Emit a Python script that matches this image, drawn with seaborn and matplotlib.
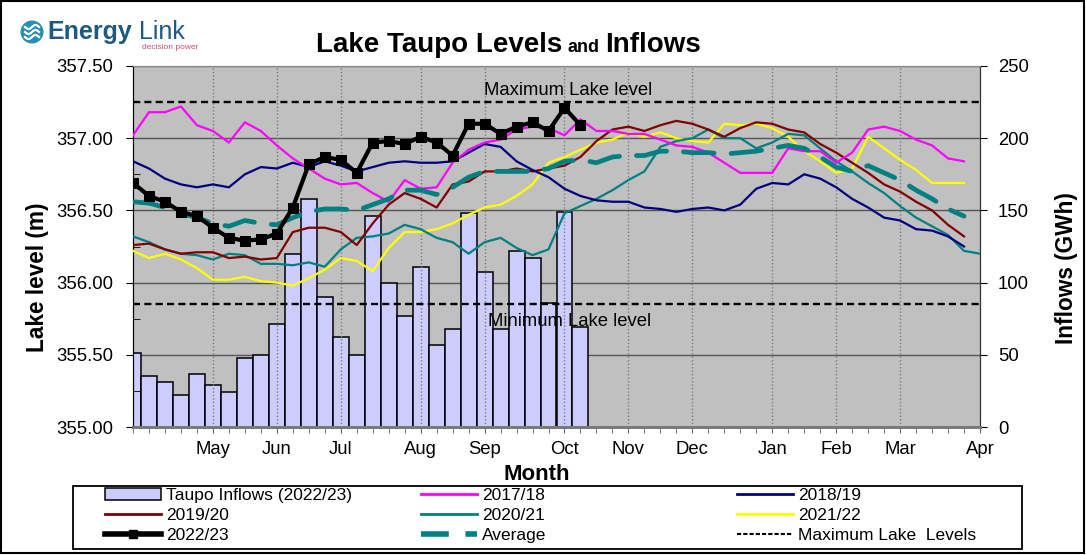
import matplotlib
matplotlib.use("Agg")
import matplotlib.pyplot as plt
import seaborn as sns
import numpy as np
from matplotlib.lines import Line2D
from matplotlib.patches import Patch, Rectangle, Ellipse

plt.rcParams['font.family'] = ['Liberation Sans', 'DejaVu Sans']

# ---- data (weekly, week 0 = start of April) ----
month_labels = ["May", "Jun", "Jul", "Aug", "Sep", "Oct", "Nov", "Dec", "Jan", "Feb", "Mar", "Apr"]
month_weeks = [5, 9, 13, 18, 22, 27, 31, 35, 40, 44, 48, 53]

inflows_2223 = [51, 35, 31, 22, 37, 29, 24, 48, 50, 71, 120, 158, 90, 62, 50, 146, 100, 77,
                111, 57, 68, 148, 107, 68, 122, 117, 86, 149, 69]

lvl_2223 = [356.69, 356.60, 356.56, 356.49, 356.46, 356.38, 356.31, 356.29, 356.30, 356.34,
            356.52, 356.82, 356.87, 356.85, 356.76, 356.97, 356.98, 356.96, 357.01, 356.97,
            356.88, 357.10, 357.10, 357.03, 357.08, 357.11, 357.05, 357.21, 357.09]

lvl_1718 = [357.02, 357.18, 357.18, 357.22, 357.09, 357.05, 356.97, 357.11, 357.05, 356.95,
            356.86, 356.79, 356.72, 356.68, 356.69, 356.62, 356.56, 356.71, 356.65,
            356.66, 356.83, 356.92, 356.97, 356.99, 357.06, 357.08, 357.07, 357.02, 357.13,
            357.05, 357.05, 357.03, 357.03, 356.99, 356.95, 356.94,
            356.90, 356.83, 356.76, 356.76, 356.76, 356.93, 356.91, 356.91, 356.83, 356.90,
            357.06, 357.08, 357.05, 356.99, 356.95, 356.86, 356.84]

lvl_1819 = [356.84, 356.79, 356.72, 356.68, 356.66, 356.68, 356.66, 356.75, 356.80, 356.79,
            356.83, 356.80, 356.84, 356.81, 356.77, 356.80, 356.83, 356.84, 356.83,
            356.83, 356.84, 356.90, 356.96, 356.94, 356.84, 356.78, 356.73, 356.65, 356.60,
            356.57, 356.56, 356.56, 356.52, 356.51, 356.49, 356.51,
            356.52, 356.50, 356.54, 356.65, 356.69, 356.68, 356.75, 356.72, 356.66, 356.58,
            356.52, 356.45, 356.43, 356.37, 356.36, 356.32, 356.25]

lvl_1920 = [356.26, 356.27, 356.23, 356.20, 356.21, 356.21, 356.17, 356.18, 356.16, 356.17,
            356.35, 356.38, 356.38, 356.35, 356.26, 356.41, 356.54, 356.62, 356.58,
            356.52, 356.68, 356.70, 356.77, 356.77, 356.79, 356.77, 356.79, 356.81, 356.87,
            356.98, 357.06, 357.08, 357.05, 357.09, 357.12, 357.10,
            357.06, 357.01, 357.07, 357.11, 357.10, 357.06, 357.04, 356.96, 356.90, 356.83,
            356.76, 356.68, 356.63, 356.56, 356.50, 356.40, 356.32]

lvl_2021 = [356.32, 356.28, 356.23, 356.20, 356.19, 356.16, 356.20, 356.19, 356.13, 356.13,
            356.12, 356.14, 356.11, 356.23, 356.31, 356.32, 356.34, 356.40, 356.37,
            356.31, 356.28, 356.20, 356.28, 356.31, 356.24, 356.19, 356.23, 356.48, 356.53,
            356.58, 356.64, 356.71, 356.77, 356.94, 356.98, 357.00,
            357.06, 357.00, 357.00, 356.93, 356.97, 357.03, 357.02, 356.93, 356.84, 356.77,
            356.69, 356.62, 356.53, 356.45, 356.39, 356.33, 356.22, 356.20]

lvl_2122 = [356.22, 356.17, 356.20, 356.16, 356.10, 356.02, 356.02, 356.04, 356.01, 356.00,
            355.98, 356.03, 356.09, 356.17, 356.15, 356.08, 356.24, 356.35, 356.35,
            356.37, 356.41, 356.47, 356.52, 356.54, 356.60, 356.68, 356.83, 356.87, 356.92,
            356.97, 356.99, 357.04, 357.01, 357.04, 357.00, 356.98,
            356.97, 357.10, 357.09, 357.10, 357.07, 357.01, 356.91, 356.84, 356.76, 356.79,
            357.01, 356.93, 356.85, 356.78, 356.69, 356.69, 356.69]

lvl_avg = [356.56, 356.55, 356.52, 356.48, 356.45, 356.41, 356.39, 356.43, 356.41, 356.40,
           356.45, 356.49, 356.51, 356.51, 356.50, 356.54, 356.58, 356.64, 356.64,
           356.61, 356.66, 356.73, 356.77, 356.77, 356.77, 356.77, 356.79, 356.84, 356.85,
           356.83, 356.87, 356.88, 356.88, 356.91, 356.91, 356.90,
           356.90, 356.89, 356.90, 356.91, 356.93, 356.95, 356.93, 356.87, 356.80, 356.77,
           356.81, 356.76, 356.71, 356.64, 356.58, 356.51, 356.46]

max_level = 357.25
min_level = 355.85

# ---- figure ----
W, H = 1086, 555
fig = plt.figure(figsize=(W / 100, H / 100), dpi=100)
fig.patch.set_facecolor("white")

def fx(px):
    return px / W

def fy(py):
    return 1 - py / H

left, right, top, bottom = 133, 980, 66, 427
ax = fig.add_axes([fx(left), fy(bottom), (right - left) / W, (bottom - top) / H])
ax.set_facecolor("#C0C0C0")

# inflow bars (right axis scale)
sns.barplot(x=np.arange(len(inflows_2223)), y=inflows_2223, native_scale=True, width=1,
            color="#CCCCFF", saturation=1, edgecolor="black", linewidth=1.1,
            errorbar=None, ax=ax, zorder=2)
ax.set_ylim(0, 250)
ax.set_xlim(0, 53)
ax.set_yticks(range(0, 251, 50))
ax.yaxis.grid(True, color="#555555", lw=1)
ax.set_axisbelow(True)
ax.set_xlabel("")
ax.set_ylabel("")

ax2 = ax.twinx()
ax2.set_ylim(355.0, 357.5)
ax2.set_xlim(0, 53)

# month grid (drawn above the bars)
for m in month_weeks:
    ax2.axvline(m, color="#7a7a7a", lw=1, ls=(0, (1, 1.5)), zorder=1)

ax2.axhline(max_level, color="black", lw=1.7, ls=(0, (3, 1.8)), zorder=2)
ax2.axhline(min_level, color="black", lw=1.7, ls=(0, (3, 1.8)), zorder=2)
ax2.text(27.2, 357.33, "Maximum Lake level", ha="center", va="center", fontsize=13.3, zorder=3)
ax2.text(27.3, 355.73, "Minimum Lake level", ha="center", va="center", fontsize=13.3, zorder=3)

series = [
    (lvl_2122, "#FFFF00", "2021/22"),
    (lvl_2021, "#008080", "2020/21"),
    (lvl_1920, "#800000", "2019/20"),
    (lvl_1819, "#000080", "2018/19"),
    (lvl_1718, "#FF00FF", "2017/18"),
]
for vals, col, name in series:
    sns.lineplot(x=np.arange(len(vals)), y=vals, color=col, lw=1.6, ax=ax2, zorder=4)

sns.lineplot(x=np.arange(len(lvl_avg)), y=lvl_avg, color="#008080", lw=3.4, ax=ax2,
             ls=(0, (6.5, 3.6)), dash_capstyle="round", zorder=5)
sns.lineplot(x=np.arange(len(lvl_2223)), y=lvl_2223, color="black", lw=3.0, ax=ax2,
             marker="s", markersize=7, mec="black", mfc="black", zorder=6)

ax2.set_xlabel("")
ax2.set_ylabel("")

# axis placement: levels on the left, inflows on the right
ax2.yaxis.tick_left()
ax.yaxis.tick_right()
ax2.set_yticks(np.arange(355.0, 357.51, 0.5))
ax2.set_yticklabels([f"{v:.2f}" for v in np.arange(355.0, 357.51, 0.5)])
ax2.set_yticks(np.arange(355.25, 357.5, 0.5), minor=True)
ax2.tick_params(axis="y", which="major", direction="out", length=5, labelsize=13.3, pad=9)
ax2.tick_params(axis="y", which="minor", direction="in", length=5)
ax.tick_params(axis="y", which="major", direction="out", length=5, labelsize=13.3, pad=8)

ax.set_xticks(month_weeks)
ax.set_xticklabels(month_labels)
ax.set_xticks(range(0, 54), minor=True)
ax.tick_params(axis="x", which="both", direction="out", length=4, color="#666666",
               labelsize=13.3, pad=6)

for a in (ax, ax2):
    a.spines["top"].set_color("#8a8a8a")
    a.spines["bottom"].set_color("#7a7a7a")
    a.spines["bottom"].set_linewidth(2)
    a.spines["left"].set_color("black")
    a.spines["right"].set_color("#333333")
ax2.patch.set_visible(False)

# axis titles
fig.text(fx(38), fy(277), "Lake level (m)", rotation=90, ha="center", va="center",
         fontsize=16.3, fontweight="bold")
fig.text(fx(1066), fy(268), "Inflows (GWh)", rotation=90, ha="center", va="center",
         fontsize=16.3, fontweight="bold")
fig.text(fx(537), fy(474), "Month", ha="center", va="center", fontsize=16, fontweight="bold")

# title
fig.text(fx(316), fy(52), "Lake Taupo Levels", ha="left", va="baseline", fontsize=20, fontweight="bold")
fig.text(fx(567), fy(52), "and", ha="left", va="baseline", fontsize=13, fontweight="bold")
fig.text(fx(605), fy(52), "Inflows", ha="left", va="baseline", fontsize=20, fontweight="bold")

# logo
fig.add_artist(Ellipse((fx(32), fy(32)), 23 / W, 23 / H, transform=fig.transFigure,
                       facecolor="#2a8db5", edgecolor="none", zorder=5))
for dy in (-5, 0, 5):
    xs = np.linspace(25, 39, 20)
    ys = 32 + dy + 2.0 * np.sin((xs - 25) / 14 * 2 * np.pi)
    fig.add_artist(Line2D(fx(xs), fy(ys), transform=fig.transFigure, color="white",
                          lw=1.6, zorder=6))
fig.text(fx(47), fy(39), "Energy", ha="left", va="baseline", fontsize=18,
         fontweight="bold", color="#1f5a82")
fig.text(fx(139), fy(39), "Link", ha="left", va="baseline", fontsize=18, color="#1f5a82")
fig.text(fx(142), fy(49), "decision power", ha="left", va="baseline", fontsize=6, color="#cc4d78")

# legend (three columns drawn as separate legends inside one frame)
cols = [
    ([Patch(facecolor="#CCCCFF", edgecolor="black", lw=1.1),
      Line2D([], [], color="#800000", lw=2),
      Line2D([], [], color="black", lw=4, marker="s", markersize=6)],
     ["Taupo Inflows (2022/23)", "2019/20", "2022/23"], 105),
    ([Line2D([], [], color="#FF00FF", lw=2),
      Line2D([], [], color="#008080", lw=2),
      Line2D([], [], color="#008080", lw=4, ls=(0, (5, 3)))],
     ["2017/18", "2020/21", "Average"], 421),
    ([Line2D([], [], color="#000080", lw=2),
      Line2D([], [], color="#FFFF00", lw=2),
      Line2D([], [], color="black", lw=1.5, ls=(0, (2, 1)))],
     ["2018/19", "2021/22", "Maximum Lake  Levels"], 737),
]
for handles, labels, xpx in cols:
    fig.legend(handles, labels, loc="upper left", bbox_to_anchor=(fx(xpx), fy(488)),
               frameon=False, fontsize=12.5, handlelength=3.2, handletextpad=0.3,
               labelspacing=0.27, borderpad=0, borderaxespad=0)

fig.add_artist(Rectangle((fx(73), fy(549)), (1022 - 73) / W, (549 - 486) / H,
                         transform=fig.transFigure, fill=False, edgecolor="black", lw=1.3))
fig.add_artist(Rectangle((fx(1), fy(553)), (1084 - 1) / W, (553 - 1) / H,
                         transform=fig.transFigure, fill=False, edgecolor="black", lw=1.5))

fig.savefig("out.png", dpi=100)
